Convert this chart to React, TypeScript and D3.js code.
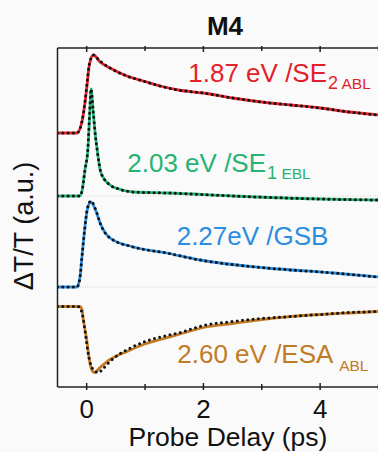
import React, { useEffect, useRef } from "react";
import * as d3 from "d3";

const W = 378;
const H = 452;

const title = "M4";
const xLabel = "Probe Delay (ps)";
const yLabel = "ΔT/T (a.u.)";
const xTicks = [0, 2, 4];
const xMinorTicks = [1, 3, 5];

// probe delay (ps) and signal (a.u., relative to each trace's own baseline)
const redT = [-0.5, -0.17, -0.086, -0.03, 0.01, 0.045, 0.115, 0.23, 0.4, 0.69, 0.97, 1.26, 1.57, 2.0, 2.5, 3.0, 3.5, 4.0, 4.5, 5.0];
const redFit = [0, 0, 10, 30, 50, 68, 78, 71, 65, 57, 52, 47, 43, 40, 35, 31, 28, 25, 21, 18];
const redData = [0, 0, 10, 31, 52, 69, 78, 72, 65, 57, 52, 47, 43, 40, 35, 31, 28, 25, 21, 18];

const greenT = [-0.5, -0.12, -0.08, -0.03, 0.02, 0.05, 0.075, 0.11, 0.15, 0.18, 0.23, 0.3, 0.4, 0.55, 0.8, 1.4, 2.5, 4.0, 5.0];
const greenFit = [0, 0, 5, 26, 46, 80, 107, 85, 60, 46, 26, 17, 11, 7, 4, 3, 0, -3, -4];
const greenData = [0, 0, 5, 26, 47, 82, 107, 86, 60, 46, 27, 17, 11, 7, 4, 3, 0, -3, -4];

const blueT = [-0.5, -0.166, -0.115, -0.086, -0.03, 0.01, 0.07, 0.17, 0.23, 0.4, 0.8, 1.37, 1.94, 3.09, 4.23, 5.0];
const blueFit = [0, 0, 10, 27, 60, 77, 85, 74, 64, 49, 40, 34, 27, 19, 14, 10];
const blueData = [0, 0, 9, 27, 60, 78, 86, 75, 64, 49, 40, 34, 27, 19, 14, 10];

const brownT = [-0.5, -0.12, -0.08, -0.06, 0.0, 0.045, 0.085, 0.13, 0.23, 0.4, 0.69, 0.97, 1.26, 1.57, 2.0, 2.5, 3.0, 3.5, 4.0, 4.5, 5.0];
const brownFit = [0, 0, -3, -12, -33, -53, -63, -66, -61, -53, -45, -38, -33, -28, -21, -17, -13, -10, -8, -6.5, -5];
const brownDataT = [-0.5, -0.15, -0.1, -0.06, -0.02, 0.02, 0.07, 0.13, 0.2, 0.3, 0.4, 0.55, 0.7, 1.0, 1.3, 1.6, 2.0, 2.5, 3.0, 3.5, 4.0, 4.5, 5.0];
const brownData = [0, 0, -3, -12, -28, -45, -58, -64, -66, -61, -55, -48, -43, -35, -30, -26, -19, -15, -12, -10, -8, -6, -5];

const offsets = [254, 191, 100, 80.5];
const colors = ["#e4212b", "#27b373", "#2a8de0", "#c27a27"];
const labelMain = ["1.87 eV /SE", "2.03 eV /SE", "2.27eV /GSB", "2.60 eV /ESA "];
const labelSubNum = ["2", "1", "", ""];
const labelSubTxt = [" ABL", " EBL", "", "ABL"];
const showZero = [false, true, true, false];

export default function App() {
  const ref = useRef<SVGSVGElement>(null);

  useEffect(() => {
    const svg = d3.select(ref.current);
    svg.selectAll("*").remove();

    const left = 57.5, right = 378.5, top = 48, bottom = 387;
    const font = "'Liberation Sans', Arial, sans-serif";

    const x = d3.scaleLinear().domain([-0.5, 5]).range([left, right]);
    const y = d3.scaleLinear().domain([0, 339]).range([bottom, top]);

    svg.append("rect").attr("width", W).attr("height", H).attr("fill", "#fafafa");

    svg.append("defs").append("clipPath").attr("id", "plot")
      .append("rect").attr("x", left).attr("y", top - 2).attr("width", right - left).attr("height", bottom - top + 2);

    const plot = svg.append("g").attr("clip-path", "url(#plot)");

    const series = [
      { t: redT, fit: redFit, dt: redT, data: redData },
      { t: greenT, fit: greenFit, dt: greenT, data: greenData },
      { t: blueT, fit: blueFit, dt: blueT, data: blueData },
      { t: brownT, fit: brownFit, dt: brownDataT, data: brownData }
    ];

    // zero lines
    series.forEach((s, i) => {
      if (!showZero[i]) return;
      plot.append("line")
        .attr("x1", left).attr("x2", right)
        .attr("y1", y(offsets[i])).attr("y2", y(offsets[i]))
        .attr("stroke", "#c8c8c8").attr("stroke-width", 0.8)
        .attr("stroke-dasharray", "1,1.5");
    });

    series.forEach((s, i) => {
      const line = d3.line<number>()
        .x((d, j) => x(s.t[j]))
        .y((d) => y(d + offsets[i]))
        .curve(d3.curveMonotoneX);
      const dots = d3.line<number>()
        .x((d, j) => x(s.dt[j]))
        .y((d) => y(d + offsets[i]))
        .curve(d3.curveMonotoneX);

      plot.append("path").attr("d", line(s.fit))
        .attr("fill", "none").attr("stroke", colors[i]).attr("stroke-width", 2.8);
      plot.append("path").attr("d", dots(s.data))
        .attr("fill", "none").attr("stroke", "#111").attr("stroke-width", 3)
        .attr("stroke-linecap", "round").attr("stroke-dasharray", "0,5.3");
    });

    // frame
    const frame = svg.append("g").attr("stroke", "#222").attr("stroke-width", 1.5);
    frame.append("line").attr("x1", left).attr("x2", right).attr("y1", top).attr("y2", top);
    frame.append("line").attr("x1", left).attr("x2", right).attr("y1", bottom).attr("y2", bottom);
    frame.append("line").attr("x1", left).attr("x2", left).attr("y1", top).attr("y2", bottom);

    xTicks.concat(xMinorTicks).forEach((v) => {
      const major = xTicks.includes(v);
      frame.append("line").attr("x1", x(v)).attr("x2", x(v))
        .attr("y1", top - 2).attr("y2", top + (major ? 4 : 3));
      frame.append("line").attr("x1", x(v)).attr("x2", x(v))
        .attr("y1", bottom - (major ? 4 : 3)).attr("y2", bottom + 3);
    });

    svg.selectAll(".tick-label").data(xTicks).enter().append("text")
      .attr("x", (d) => x(d)).attr("y", 417.5)
      .attr("text-anchor", "middle").attr("font-family", font).attr("font-size", 26)
      .attr("fill", "#111").text((d) => d);

    svg.append("text").attr("x", 228).attr("y", 446)
      .attr("text-anchor", "middle").attr("font-family", font).attr("font-size", 26.5)
      .attr("fill", "#111").text(xLabel);

    svg.append("text").attr("transform", "translate(33,226) rotate(-90)")
      .attr("text-anchor", "middle").attr("font-family", font).attr("font-size", 27)
      .attr("fill", "#111").text(yLabel);

    svg.append("text").attr("x", 225).attr("y", 34.5)
      .attr("text-anchor", "middle").attr("font-family", font).attr("font-size", 26)
      .attr("font-weight", "bold").attr("fill", "#111").text(title);

    const labelPos = [[188.3, 81.7], [127.3, 171.7], [176.7, 245], [177.3, 363.3]];
    labelMain.forEach((txt, i) => {
      const t = svg.append("text").attr("x", labelPos[i][0]).attr("y", labelPos[i][1])
        .attr("font-family", font).attr("font-size", 26).attr("fill", colors[i]);
      t.append("tspan").text(txt);
      let shifted = false;
      if (labelSubNum[i]) {
        t.append("tspan").attr("font-size", 18).attr("dy", 7.6).attr("dx", 1).text(labelSubNum[i]);
        shifted = true;
      }
      if (labelSubTxt[i]) {
        t.append("tspan").attr("font-size", 15.5).attr("dy", shifted ? 0 : 7.7).text(labelSubTxt[i]);
      }
    });
  }, []);

  return (
    <svg ref={ref} width={W} height={H}
      style={{ position: "absolute", left: 0, top: 0, display: "block" }} />
  );
}
